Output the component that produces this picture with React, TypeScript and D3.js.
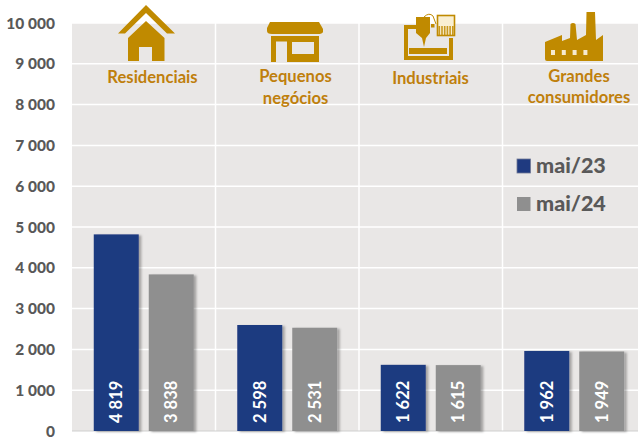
import React from "react";
import * as d3 from "d3";

const categories = ["Residenciais", "Pequenos negócios", "Industriais", "Grandes consumidores"];
const categoryLines = [["Residenciais"], ["Pequenos", "negócios"], ["Industriais"], ["Grandes", "consumidores"]];
const seriesNames = ["mai/23", "mai/24"];
const mai23 = [4819, 2598, 1622, 1962];
const mai24 = [3838, 2531, 1615, 1949];
const yTicks = [0, 1000, 2000, 3000, 4000, 5000, 6000, 7000, 8000, 9000, 10000];
const colors = ["#1f3a80", "#8f8f8f"];
const GOLD = "#c08a00";
const LABEL_GOLD = "#bf7f0c";
const TEXT = "#595959";
const FONT = "Lato, Carlito, sans-serif";

const W = 638, H = 437;
const L = 72, R = 646, T = 23, B = 431;

const fmt = (v: number) => d3.format(",")(v).replace(/,/g, " ");

const x0 = d3.scaleBand<string>().domain(categories).range([L, R]).paddingInner(0).paddingOuter(0);
const x1 = d3.scaleBand<string>().domain(seriesNames).range([21.75, 121.75]).paddingInner(10 / 55).paddingOuter(0);
const y = d3.scaleLinear().domain([0, 10000]).range([B, T]);

function House() {
  return (
    <g fill={GOLD}>
      <path d="M146 5 L175 33.5 L167 33.5 L146 13 L125 33.5 L118 33.5 Z" />
      <path d="M146 21 L164.5 38 L164.5 61 L152 61 L152 47 L139 47 L139 61 L128 61 L128 38 Z" />
    </g>
  );
}
function Shop() {
  return (
    <g>
      <path fill={GOLD} d="M270 22 L319 22 L323 29 L323 32 Q322 34 318 34 L272 34 Q267 34 267 31 L267 28 Z" />
      <path fill={GOLD} fillRule="evenodd" d="M271 36 L319 36 L319 62 L287 62 L287 41.5 L276 41.5 L276 62 L271 62 Z M292 42 L292 54 L314 54 L314 42 Z" />
    </g>
  );
}
function Machine() {
  const hatch = d3.range(0, 6);
  return (
    <g>
      <path fill="none" stroke={GOLD} strokeWidth={4} d="M416 27 L406 27 L406 58 L451 58 L451 38" />
      <rect x={409} y={48} width={38} height={6} fill={GOLD} />
      <path fill={GOLD} d="M416 17 L430 17 L430 33 L426 38 L424 47 L422 38 L416 33 Z" />
      <path fill="none" stroke={GOLD} strokeWidth={1} d="M424 17 Q429 12 433 16 L436 24" />
      <rect x={431} y={24} width={3.5} height={3.5} fill={GOLD} />
      <rect x={437.5} y={15.5} width={17} height={20} fill="#f9efd2" stroke={GOLD} strokeWidth={1.6} />
      {hatch.map((i) => (
        <rect key={i} x={438.5 + i * 2.7} y={26} width={1.6} height={9} fill={GOLD} opacity={0.85} />
      ))}
    </g>
  );
}
function Factory() {
  return (
    <g>
      <path fill={GOLD} d="M545 42 L562 35 L562 41 L570 38 L570.5 24 Q573 22 575.5 24 L577 40 L586 35 L586.5 12 L595 12 L596 40 L603 35 L603 61 L547 61 Q545 61 545 59 Z" />
      {[0, 1, 2, 3].map((i) => (
        <rect key={i} x={551 + i * 10.8} y={50} width={4} height={5} fill="#f6ead0" />
      ))}
    </g>
  );
}
const icons = [House, Shop, Machine, Factory];
const labelY = [[83], [82, 104], [84], [82, 103]];
const labelX = [152.5, 295.5, 430.5, 579];

export default function App() {
  return (
    <svg width={W} height={H} viewBox={`0 0 ${W} ${H}`} style={{ position: "absolute", left: 0, top: 0, background: "#fff" }}>
      <defs>
        <filter id="sh" x="-20%" y="-5%" width="150%" height="115%">
          <feDropShadow dx={2.5} dy={1} stdDeviation={1.3} floodColor="#000" floodOpacity={0.3} />
        </filter>
      </defs>
      <rect x={L} y={T} width={W - L} height={B - T} fill="#e9e7e6" />
      {yTicks.slice(1).map((t) => (
        <line key={t} x1={L} x2={W} y1={y(t)} y2={y(t)} stroke="#fff" strokeWidth={1.5} />
      ))}
      {categories.slice(1).map((c) => (
        <line key={c} x1={x0(c)!} x2={x0(c)!} y1={T} y2={B} stroke="#fff" strokeWidth={1.5} />
      ))}
      <line x1={L} x2={W} y1={B} y2={B} stroke="#cfcfcf" strokeWidth={1} />

      {yTicks.map((t) => (
        <text key={t} x={55} y={y(t) + 5.5} textAnchor="end" fontFamily={FONT} fontWeight={900} fontSize={15.5} fill={TEXT}>
          {fmt(t)}
        </text>
      ))}

      {categories.map((c, i) =>
        [mai23, mai24].map((vals, s) => {
          const bx = x0(c)! + x1(seriesNames[s])!;
          const bw = x1.bandwidth();
          const cx = bx + bw / 2;
          return (
            <g key={c + s}>
              <rect x={bx} y={y(vals[i])} width={bw} height={B - y(vals[i])} fill={colors[s]} filter="url(#sh)" />
              <text
                transform={`translate(${cx + 6},${B - 8}) rotate(-90)`}
                fontFamily={FONT}
                fontWeight={700}
                fontSize={16.5}
                fill="#fff"
              >
                {fmt(vals[i])}
              </text>
            </g>
          );
        })
      )}

      {icons.map((Icon, i) => (
        <Icon key={i} />
      ))}
      {categoryLines.map((lines, i) =>
        lines.map((ln, j) => (
          <text key={ln} x={labelX[i]} y={labelY[i][j]} textAnchor="middle" fontFamily={FONT} fontWeight={700} fontSize={16.6} fill={LABEL_GOLD}>
            {ln}
          </text>
        ))
      )}

      {seriesNames.map((n, i) => (
        <g key={n}>
          <rect x={517} y={159 + i * 38} width={13.5} height={14} fill={colors[i]} stroke={i === 0 ? "#6f7894" : "none"} strokeWidth={0.8} />
          <text x={536} y={173 + i * 38} fontFamily={FONT} fontWeight={900} fontSize={21.5} fill={TEXT}>
            {n}
          </text>
        </g>
      ))}
    </svg>
  );
}
